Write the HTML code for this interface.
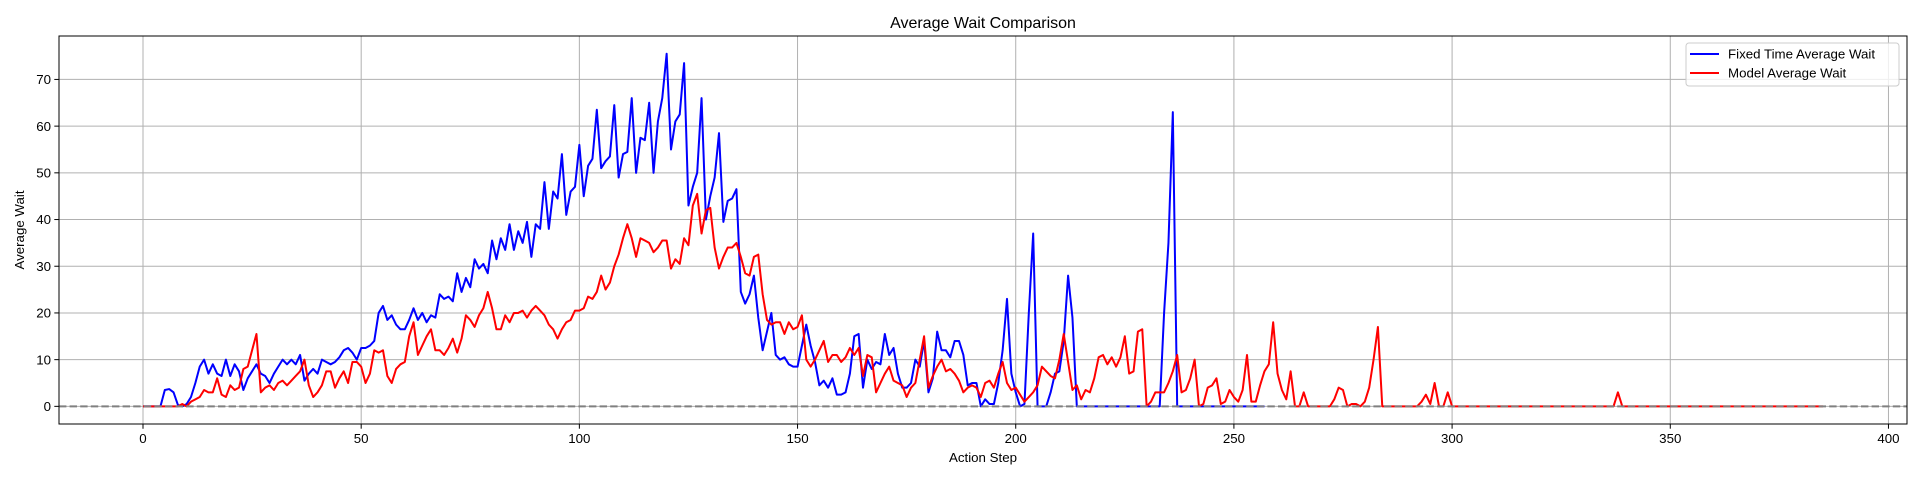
<!DOCTYPE html>
<html><head><meta charset="utf-8"><style>
html,body{margin:0;padding:0;background:#fff;}
svg{display:block;font-family:"Liberation Sans","DejaVu Sans",sans-serif;}
</style></head><body>
<svg id="chart" width="1920" height="480" viewBox="0 0 1920 480" xmlns="http://www.w3.org/2000/svg">
<rect x="0" y="0" width="1920" height="480" fill="#fff"/>
<text x="983" y="28" font-size="16" text-anchor="middle" fill="#000">Average Wait Comparison</text>
<g id="grid"></g><g id="series"></g><g id="axes"></g>
<text x="983" y="462" font-size="13.3" text-anchor="middle">Action Step</text>
<text x="24" y="230" font-size="13.3" text-anchor="middle" transform="rotate(-90 24 230)">Average Wait</text>
<g>
<rect x="1686" y="43" width="213" height="43" fill="#fff" fill-opacity="0.8" stroke="#ccc" stroke-width="1" rx="3"/>
<line x1="1690" y1="54" x2="1719" y2="54" stroke="#0000ff" stroke-width="2"/>
<text x="1728" y="58.5" font-size="13.3">Fixed Time Average Wait</text>
<line x1="1690" y1="73" x2="1719" y2="73" stroke="#ff0000" stroke-width="2"/>
<text x="1728" y="77.5" font-size="13.3">Model Average Wait</text>
</g>
</svg>
<script>
const xTicks=[0,50,100,150,200,250,300,350,400];
const yTicks=[0,10,20,30,40,50,60,70];
const fixedWait=[0,0,0,0,0,3.5,3.7,3,0.3,0,0.5,2,5,8.5,10,7,9,7,6.5,10,6.5,9,7.5,3.5,6,7.5,9,7,6.5,5,7,8.5,10,9,10,9,11,5.5,7,8,7,10,9.5,9,9.5,10.5,12,12.5,11.5,10,12.5,12.5,13,14,20,21.5,18.5,19.5,17.5,16.5,16.5,18.5,21,18.5,20,18,19.5,19,24,23,23.5,22.5,28.5,24.5,27.5,25.5,31.5,29.5,30.5,28.5,35.5,31.5,36,33.5,39,33.5,37.5,35,39.5,32,39,38,48,38,46,44.5,54,41,46,47,56,45,51.5,53,63.5,51,52.5,53.5,64.5,49,54,54.5,66,50,57.5,57,65,50,61,66,75.5,55,61,62.5,73.5,43,47,50,66,40,45,49,58.5,39.5,44,44.5,46.5,24.5,22,24,28,19,12,16,20,11,10,10.5,9,8.5,8.5,13,17.5,13,9.5,4.5,5.5,4,6,2.5,2.5,3,7,15,15.5,4,10,8,9.5,9,15.5,11,12.5,7,4,4,5,10,8.5,14,3,6,16,12,12,10.5,14,14,11,4.5,5,5,0,1.5,0.5,0.5,5,12,23,7,3,0,0.5,20,37,0,0,0,3,7,7.5,14,28,19,0,0,0,0,0,0,0,0,0,0,0,0,0,0,0,0,0,0,0,0,20,35,63,0,0,0,0,0,0,0,0,0,0,0,0,0,0,0,0,0,0,0,0,0];
const modelWait=[0,0,0,0,0,0,0,0,0,0.5,0,1,1.5,2,3.5,3,3,6,2.5,2,4.5,3.5,4,8,8.5,12,15.5,3,4,4.5,3.5,5,5.5,4.5,5.5,6.5,7.5,10,4.5,2,3,4.5,7.5,7.5,4,6,7.5,5,9.5,9.5,8.5,5,7,12,11.5,12,6.5,5,8,9,9.5,15,18,11,13,15,16.5,12,12,11,12.5,14.5,11.5,14.5,19.5,18.5,17,19.5,21,24.5,21,16.5,16.5,19.5,18,20,20,20.5,19,20.5,21.5,20.5,19.5,17.5,16.5,14.5,16.5,18,18.5,20.5,20.5,21,23.5,23,24.5,28,25,26.5,30,32.5,36,39,36,32,36,35.5,35,33,34,35.5,35.5,29.5,31.5,30.5,36,34.5,43,45.5,37,42,42.5,34,29.5,32,34,34,35,32,28.5,28,32,32.5,24,18.5,17.5,18,18,15.5,18,16.5,17,19.5,10,8.5,10,12,14,9.5,11,11,9.5,10.5,12.5,11,12.5,6.5,11,10.5,3,5,7,8.5,5.5,5,4.5,2,4,5,10,15,4,6.5,8.5,10,7.5,8,7,5.5,3,4,4.5,4,2,5,5.5,4,7,9.5,5,3.5,4,2.5,1,2,3,4.5,8.5,7.5,6.5,6,10,15.5,9.5,3.5,4.5,1.5,3.5,3,6,10.5,11,9,10.5,8.5,10.5,15,7,7.5,16,16.5,0,1,3,3,3,5,7.5,11,3,3.5,6,10,0,0.5,4,4.5,6,0.5,1,3.5,2,1,3.5,11,1,1,4.5,7.5,9,18,7,3.5,1.5,7.5,0,0,3,0,0,0,0,0,0,1.5,4,3.5,0,0.5,0.5,0,1,4,10,17,0,0,0,0,0,0,0,0,0,1,2.5,0.5,5,0,0,3,
0,0,0,0,0,0,0,0,0,0,0,0,0,0,0,0,0,0,0,0,0,0,0,0,0,0,0,0,0,0,0,0,0,0,0,0,0,0,
3,
0,0,0,0,0,0,0,0,0,0,0,0,0,0,0,0,0,0,0,0,0,0,0,0,0,0,0,0,0,0,0,0,0,0,0,0,0,0,0,0,0,0,0,0,0,0,0];
const L=59,R=1907,T=36,B=424;
const xMin=-19.25,xMax=404.25,yMin=-3.78,yMax=79.3;
const NS='http://www.w3.org/2000/svg';
function xs(v){return L+(v-xMin)/(xMax-xMin)*(R-L);}
function ys(v){return B-(v-yMin)/(yMax-yMin)*(B-T);}
function mk(tag,attrs,parent){const e=document.createElementNS(NS,tag);for(const k in attrs)e.setAttribute(k,attrs[k]);parent.appendChild(e);return e;}
const grid=document.getElementById('grid'),axes=document.getElementById('axes'),series=document.getElementById('series');
xTicks.forEach(t=>{
  const g=mk('line',{x1:xs(t),x2:xs(t),y1:T,y2:B,stroke:'#b0b0b0','stroke-width':1},grid);
  
  
  mk('line',{x1:xs(t),x2:xs(t),y1:B,y2:B+4.7,stroke:'#000','stroke-width':1},axes);
  const tx=mk('text',{x:xs(t),y:B+19,'font-size':13.3,'text-anchor':'middle'},axes);
  tx.textContent=t;
  
  
});
yTicks.forEach(t=>{
  const g=mk('line',{x1:L,x2:R,y1:ys(t),y2:ys(t),stroke:'#b0b0b0','stroke-width':1},grid);
  
  
  mk('line',{x1:L-4.7,x2:L,y1:ys(t),y2:ys(t),stroke:'#000','stroke-width':1},axes);
  const tx=mk('text',{x:L-8,y:ys(t)+4.7,'font-size':13.3,'text-anchor':'end'},axes);
  tx.textContent=t;
  
  
});
function line(arr,color,name){
  const d=arr.map((v,i)=>(i?'L':'M')+xs(i).toFixed(2)+' '+ys(v).toFixed(2)).join(' ');
  const p=mk('path',{d:d,fill:'none',stroke:color,'stroke-width':2,'stroke-linejoin':'round'},series);
  
  
}
line(fixedWait,'#0000ff','fixed-time-wait-line');
line(modelWait,'#ff0000','model-wait-line');
const zl=mk('line',{x1:L,x2:R,y1:ys(0),y2:ys(0),stroke:'#808080','stroke-width':2,'stroke-dasharray':'7.4,3.2'},series);


const fr=mk('rect',{x:L,y:T,width:R-L,height:B-T,fill:'none',stroke:'#000','stroke-width':1},axes);


</script>
</body></html>
